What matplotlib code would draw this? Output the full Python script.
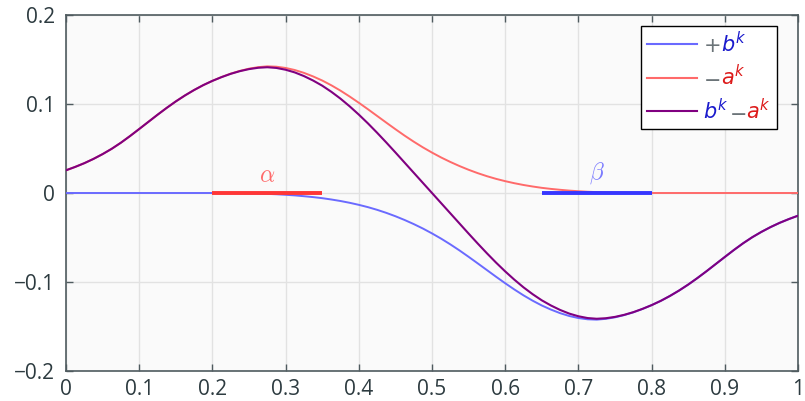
import numpy as np
import matplotlib
matplotlib.use("Agg")
import matplotlib.pyplot as plt
from matplotlib.lines import Line2D
from matplotlib.offsetbox import AnchoredOffsetbox, HPacker, VPacker, TextArea, DrawingArea

plt.rcParams['font.family'] = ['Open Sans', 'DejaVu Sans']
plt.rcParams['axes.unicode_minus'] = True

# values, x step 0.0125
x = np.linspace(0, 1, 81)
minus_a = [0.0255, 0.0293, 0.0335, 0.0383, 0.0437, 0.0497, 0.0565, 0.0640, 0.0719, 0.0799,
           0.0879, 0.0956, 0.1029, 0.1096, 0.1157, 0.1212, 0.1260, 0.1303, 0.1341, 0.1372,
           0.1397, 0.1414, 0.1423, 0.1419, 0.1405, 0.1382, 0.1350, 0.1310, 0.1264, 0.1210,
           0.1150, 0.1084, 0.1014, 0.0941, 0.0866, 0.0791, 0.0717, 0.0645, 0.0577, 0.0513,
           0.0454, 0.0399, 0.0349, 0.0303, 0.0261, 0.0223, 0.0189, 0.0159, 0.0133, 0.0110,
           0.0090, 0.0073, 0.0058, 0.0046, 0.0036, 0.0027, 0.0020, 0.0014, 0.0010, 0.0007,
           0.0005, 0.0003, 0.0002, 0.0001, 0.0, 0.0, 0.0, 0.0, 0.0, 0.0,
           0.0, 0.0, 0.0, 0.0, 0.0, 0.0, 0.0, 0.0, 0.0, 0.0,
           0.0]
plus_b = [0.0, 0.0, 0.0, 0.0, 0.0, 0.0, 0.0, 0.0, 0.0, 0.0,
          0.0, 0.0, 0.0, 0.0, 0.0, 0.0, 0.0, -0.0001, -0.0002, -0.0003,
          -0.0005, -0.0007, -0.0010, -0.0014, -0.0020, -0.0027, -0.0036, -0.0046, -0.0058, -0.0073,
          -0.0090, -0.0110, -0.0133, -0.0159, -0.0189, -0.0223, -0.0261, -0.0303, -0.0349, -0.0399,
          -0.0454, -0.0513, -0.0577, -0.0645, -0.0717, -0.0791, -0.0866, -0.0941, -0.1014, -0.1084,
          -0.1150, -0.1210, -0.1264, -0.1310, -0.1350, -0.1382, -0.1405, -0.1419, -0.1423, -0.1414,
          -0.1397, -0.1372, -0.1341, -0.1303, -0.1260, -0.1212, -0.1157, -0.1096, -0.1029, -0.0956,
          -0.0879, -0.0799, -0.0719, -0.0640, -0.0565, -0.0497, -0.0437, -0.0383, -0.0335, -0.0293,
          -0.0255]
b_minus_a = [0.0255, 0.0293, 0.0335, 0.0383, 0.0437, 0.0497, 0.0565, 0.0640, 0.0719, 0.0799,
             0.0879, 0.0956, 0.1029, 0.1096, 0.1157, 0.1212, 0.1260, 0.1302, 0.1339, 0.1369,
             0.1392, 0.1407, 0.1413, 0.1405, 0.1385, 0.1355, 0.1314, 0.1264, 0.1206, 0.1137,
             0.1060, 0.0974, 0.0881, 0.0782, 0.0677, 0.0568, 0.0456, 0.0342, 0.0228, 0.0114,
             0.0, -0.0114, -0.0228, -0.0342, -0.0456, -0.0568, -0.0677, -0.0782, -0.0881, -0.0974,
             -0.1060, -0.1137, -0.1206, -0.1264, -0.1314, -0.1355, -0.1385, -0.1405, -0.1413, -0.1407,
             -0.1392, -0.1369, -0.1339, -0.1302, -0.1260, -0.1212, -0.1157, -0.1096, -0.1029, -0.0956,
             -0.0879, -0.0799, -0.0719, -0.0640, -0.0565, -0.0497, -0.0437, -0.0383, -0.0335, -0.0293,
             -0.0255]

alpha_span = [0.2, 0.35]
beta_span = [0.65, 0.8]

xticks = [0, 0.1, 0.2, 0.3, 0.4, 0.5, 0.6, 0.7, 0.8, 0.9, 1]
xlabels = ['0', '0.1', '0.2', '0.3', '0.4', '0.5', '0.6', '0.7', '0.8', '0.9', '1']
yticks = [-0.2, -0.1, 0, 0.1, 0.2]
ylabels = ['\u22120.2', '\u22120.1', '0', '0.1', '0.2']

c_blue = '#6a6aff'
c_red = '#ff6a6a'
c_purple = '#800080'
txt = '#2d3b40'
spine = '#4f5b5f'

fig = plt.figure(figsize=(8.05, 4.01), dpi=100)
fig.patch.set_facecolor('white')
ax = fig.add_axes([66/805, 30/401, 732/805, 356/401])
ax.set_facecolor('#fafafa')

ax.plot(x, plus_b, color=c_blue, lw=1.4, zorder=3)
ax.plot(x, minus_a, color=c_red, lw=1.4, zorder=3)
ax.plot(x, b_minus_a, color=c_purple, lw=1.5, zorder=4)

ax.plot(alpha_span, [0, 0], color='#ff3636', lw=2.8, zorder=5, solid_capstyle='butt')
ax.plot(beta_span, [0, 0], color='#3636ff', lw=2.8, zorder=5, solid_capstyle='butt')
ax.text(sum(alpha_span)/2, 0.005, r'$\alpha$', color=c_red, fontsize=17,
        ha='center', va='bottom', math_fontfamily='cm')
ax.text(sum(beta_span)/2, 0.008, r'$\beta$', color='#7a7aff', fontsize=17,
        ha='center', va='bottom', math_fontfamily='cm')

ax.set_xlim(0, 1)
ax.set_ylim(-0.2, 0.2)
ax.set_xticks(xticks)
ax.set_xticklabels(xlabels)
ax.set_yticks(yticks)
ax.set_yticklabels(ylabels)
ax.grid(True, color='#e2e2e2', lw=1)
ax.set_axisbelow(True)
ax.tick_params(direction='in', length=5, width=1, color=spine, labelcolor=txt,
               labelsize=15, top=True, right=True)
ax.tick_params(axis='y', pad=8)
ax.tick_params(axis='x', pad=6)
for s in ax.spines.values():
    s.set_color(spine)
    s.set_linewidth(1.2)

# legend with two-colour labels
gray = '#6b7478'
entries = [
    (c_blue, [('$+$', gray), ('$b^k$', '#1a1acc')]),
    (c_red, [('$-$', gray), ('$a^k$', '#dd1a1a')]),
    (c_purple, [('$b^k$', '#1a1acc'), ('$-$', gray), ('$a^k$', '#dd1a1a')]),
]
rows = []
for lc, parts in entries:
    da = DrawingArea(36, 16, 0, 0)
    da.add_artist(Line2D([0, 36], [8, 8], color=lc, lw=1.5))
    texts = [TextArea(t, textprops=dict(color=c, fontsize=15, math_fontfamily='dejavusans'))
             for t, c in parts]
    label = HPacker(children=texts, align='baseline', pad=0, sep=0)
    rows.append(HPacker(children=[da, label], align='center', pad=0, sep=5))
box = VPacker(children=rows, align='left', pad=0, sep=6)
leg = AnchoredOffsetbox(loc='upper right', child=box, pad=0.4, borderpad=0,
                        frameon=True, bbox_to_anchor=(0.971, 0.969),
                        bbox_transform=ax.transAxes)
leg.patch.set_edgecolor('black')
leg.patch.set_facecolor('white')
leg.patch.set_linewidth(1)
leg.patch.set_boxstyle('square', pad=0)
leg.set_zorder(10)
ax.add_artist(leg)

fig.savefig('out.png', dpi=100)
